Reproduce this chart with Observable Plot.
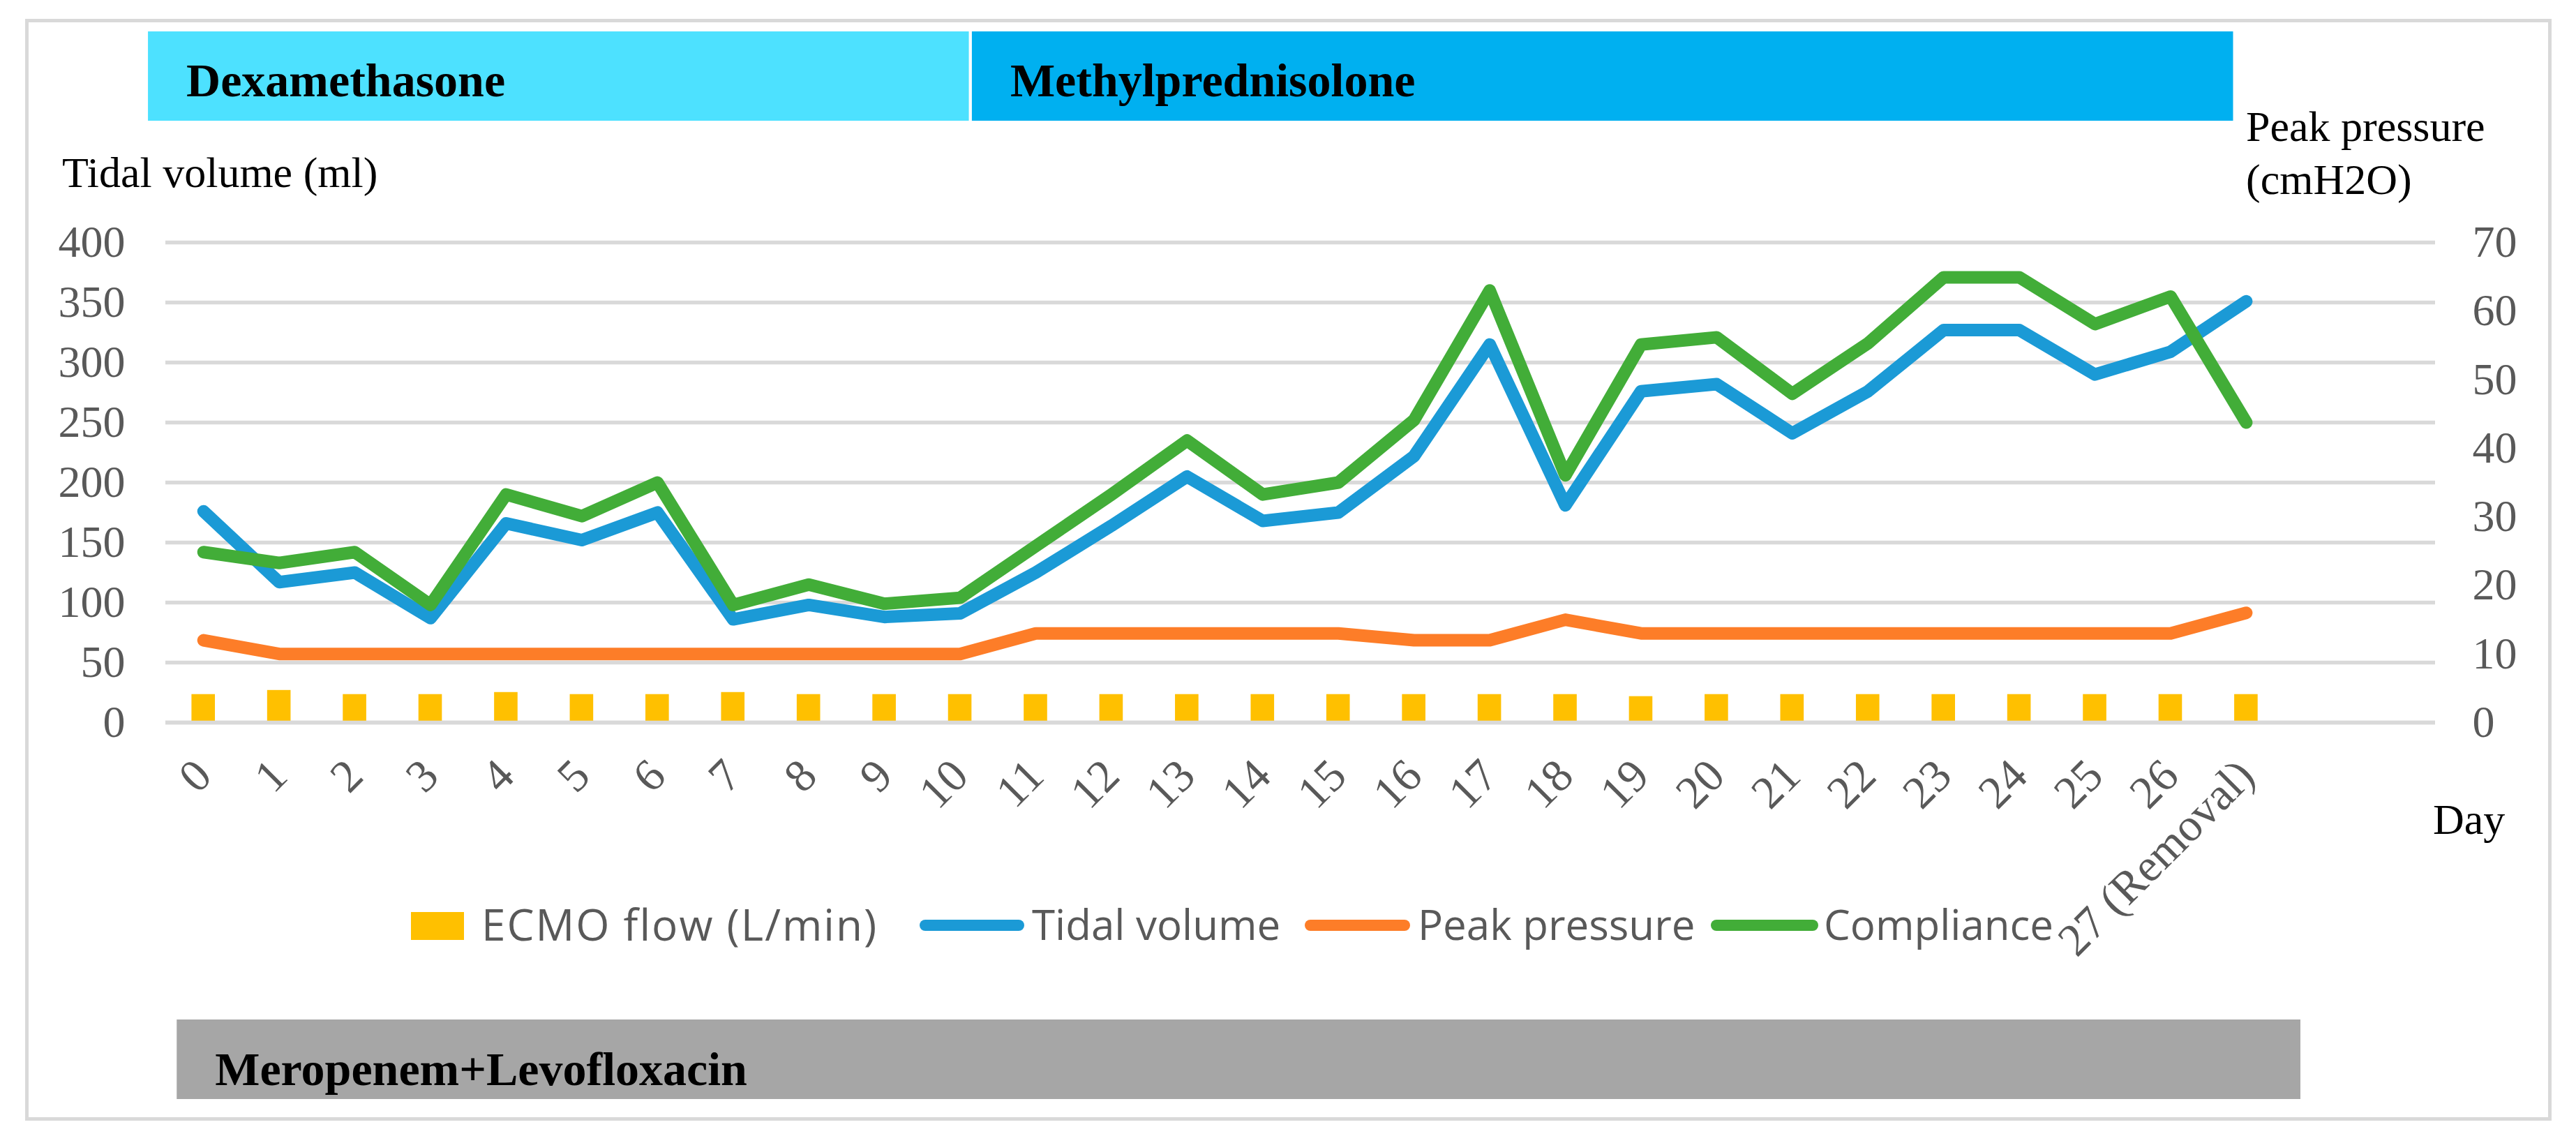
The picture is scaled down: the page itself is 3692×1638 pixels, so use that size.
<!DOCTYPE html>
<html><head><meta charset="utf-8">
<script src="https://cdn.jsdelivr.net/npm/d3@7"></script>
<script src="https://cdn.jsdelivr.net/npm/@observablehq/plot@0.6"></script>
<style>
html,body{margin:0;padding:0;background:#fff;}
#chart{width:3692px;height:1638px;position:relative;}
</style>
</head><body><div id="chart"></div>
<script>
// ---- data ----
const days = [0,1,2,3,4,5,6,7,8,9,10,11,12,13,14,15,16,17,18,19,20,21,22,23,24,25,26,27];
const dayLabels = ["0","1","2","3","4","5","6","7","8","9","10","11","12","13","14","15","16","17","18","19","20","21","22","23","24","25","26","27 (Removal)"];
const tidalVolume = [176,117,125,87,166,152,175,86,98,88,91,125,164,205,168,175,222,315,181,276,282,241,276,327,327,290,309,351];
const compliance = [142,133,142,98,190,172,200,98,115,99,104,147,190,235,190,200,252,360,206,315,321,274,316,371,371,332,355,250];
const peakPressure = [12,10,10,10,10,10,10,10,10,10,10,13,13,13,13,13,12,12,15,13,13,13,13,13,13,13,13,16];
const ecmoFlow = [4.1,4.7,4.1,4.1,4.4,4.1,4.1,4.4,4.1,4.1,4.1,4.1,4.1,4.1,4.1,4.1,4.1,4.1,4.1,3.8,4.1,4.1,4.1,4.1,4.1,4.1,4.1,4.1];
const leftTicks = [0,50,100,150,200,250,300,350,400];
const rightTicks = [0,10,20,30,40,50,60,70];
const topDrugs = ["Dexamethasone","Methylprednisolone"];
const topDrugStart = [-0.73, 10.16];
const topDrugEnd = [10.12, 26.83];
const bottomDrugs = ["Meropenem+Levofloxacin"];
const bottomDrugStart = [-0.35];
const bottomDrugEnd = [27.72];
const seriesNames = ["ECMO flow (L/min)","Tidal volume","Peak pressure","Compliance"];

// ---- styles ----
const C = {blue:"#1b9ad6", orange:"#fd7d28", green:"#42ad38", yellow:"#ffc000", grid:"#d9d9d9",
           tick:"#595959", dexa:"#4de1ff", methyl:"#00b0f0", mero:"#a6a6a6"};
const k = 400/70; // right axis -> left axis units

const rows = days.map((d,i)=>({day:d, label:dayLabels[i], tv:tidalVolume[i], comp:compliance[i],
  pp:peakPressure[i]*k, ecmo:ecmoFlow[i]*k}));

const LW = 18;
const plot = Plot.plot({
  width: 3692, height: 1638,
  marginLeft: 237, marginRight: 202, marginTop: 347, marginBottom: 603,
  style: {fontFamily: "'Liberation Serif', serif", fontSize: "64px", color: C.tick, background: "#fff", overflow: "visible"},
  x: {type: "linear", domain: [-0.5, 29.5], axis: null},
  y: {domain: [0, 400], axis: null},
  marks: [
    Plot.ruleY(leftTicks, {stroke: C.grid, strokeWidth: 5.5}),
    Plot.rectY(rows, {x1: d=>d.day-0.155, x2: d=>d.day+0.155, y1: 0, y2: "ecmo", fill: C.yellow}),
    Plot.ruleY([0], {stroke: C.grid, strokeWidth: 5.5}),
    Plot.line(rows, {x: "day", y: "tv", stroke: C.blue, strokeWidth: LW, strokeLinejoin: "round", strokeLinecap: "round"}),
    Plot.line(rows, {x: "day", y: "pp", stroke: C.orange, strokeWidth: LW, strokeLinejoin: "round", strokeLinecap: "round"}),
    Plot.line(rows, {x: "day", y: "comp", stroke: C.green, strokeWidth: LW, strokeLinejoin: "round", strokeLinecap: "round"}),
    Plot.axisY(leftTicks, {anchor: "left", tickSize: 0, tickPadding: 58, label: null, fill: C.tick, fontSize: 64}),
    Plot.axisY(rightTicks.map(v=>v*k), {anchor: "right", tickSize: 0, tickPadding: 53, label: null, fill: C.tick, fontSize: 64,
      tickFormat: v => String(Math.round(v/k))}),
    Plot.text(rows, {x: "day", frameAnchor: "bottom", text: "label", rotate: -45, textAnchor: "end",
      lineAnchor: "middle", dy: 65, fill: C.tick, fontSize: 66})
  ]
});
document.getElementById("chart").appendChild(plot);

// ---- annotations (layout) ----
const svg = d3.select(plot);
const xs = plot.scale("x");
const X = v => xs.apply(v);
const serif = "'Liberation Serif', serif";
const ann = svg.append("g").attr("text-anchor","start");
// outer frame
ann.append("rect").attr("x",38.5).attr("y",29.5).attr("width",3616).attr("height",1574)
  .attr("fill","none").attr("stroke",C.grid).attr("stroke-width",5);
// top drug bars
const topColors = [C.dexa, C.methyl];
topDrugs.forEach((name,i)=>{
  const x1 = X(topDrugStart[i]), x2 = X(topDrugEnd[i]);
  ann.append("rect").attr("x",x1).attr("y",45).attr("width",x2-x1).attr("height",128).attr("fill",topColors[i]);
  ann.append("text").attr("x",x1+55).attr("y",138).attr("fill","#000").attr("font-weight","bold")
    .attr("font-size",68).attr("font-family",serif).text(name);
});
bottomDrugs.forEach((name,i)=>{
  const x1 = X(bottomDrugStart[i]), x2 = X(bottomDrugEnd[i]);
  ann.append("rect").attr("x",x1).attr("y",1461).attr("width",x2-x1).attr("height",114).attr("fill",C.mero);
  ann.append("text").attr("x",x1+55).attr("y",1555).attr("fill","#000").attr("font-weight","bold")
    .attr("font-size",68).attr("font-family",serif).text(name);
});
// axis titles
ann.append("text").attr("x",89).attr("y",268).attr("font-size",62).attr("font-family",serif).attr("fill","#000").text("Tidal volume (ml)");
ann.append("text").attr("x",3219).attr("y",202).attr("font-size",62).attr("font-family",serif).attr("fill","#000").text("Peak pressure");
ann.append("text").attr("x",3219).attr("y",278).attr("font-size",62).attr("font-family",serif).attr("fill","#000").text("(cmH2O)");
ann.append("text").attr("x",3487).attr("y",1195).attr("font-size",62).attr("font-family",serif).attr("fill","#000").text("Day");
// legend
const lg = ann.append("g").attr("font-family","'Open Sans', sans-serif").attr("font-size",62).attr("fill",C.tick);
const ly = 1326;
lg.append("rect").attr("x",589).attr("y",1307).attr("width",76).attr("height",40).attr("fill",C.yellow);
lg.append("text").attr("x",690).attr("y",ly).attr("dy","0.35em").attr("letter-spacing",2).text(seriesNames[0]);
const lineItems = [[1318,1468,1479,C.blue,seriesNames[1]],[1870,2021,2032,C.orange,seriesNames[2]],[2452,2606,2614,C.green,seriesNames[3]]];
lineItems.forEach(([a,b,t,c,name])=>{
  lg.append("line").attr("x1",a+8).attr("x2",b-8).attr("y1",ly).attr("y2",ly).attr("stroke",c)
    .attr("stroke-width",16).attr("stroke-linecap","round");
  lg.append("text").attr("x",t).attr("y",ly).attr("dy","0.35em").attr("font-size",60).text(name);
});
</script>
</body></html>
